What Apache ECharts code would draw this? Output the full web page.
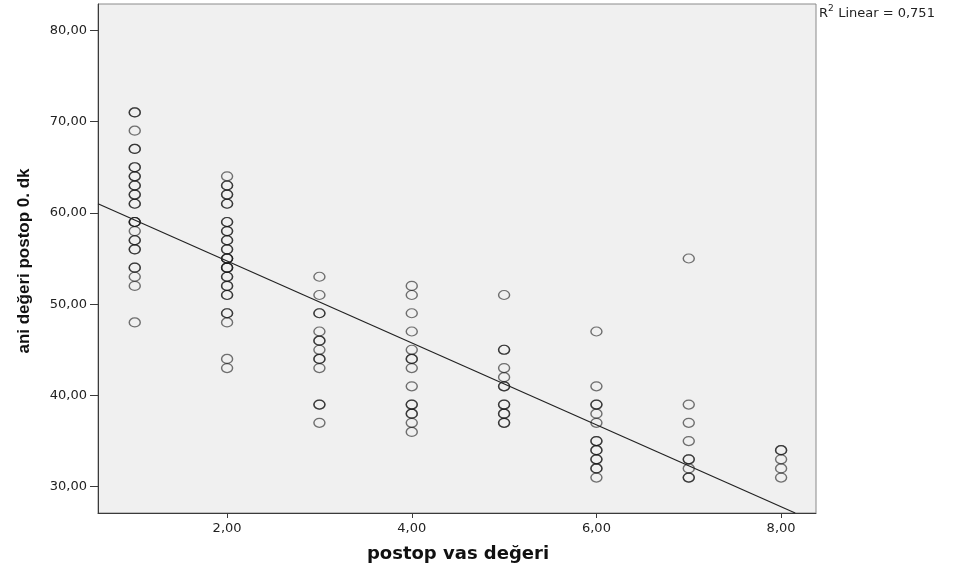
<!DOCTYPE html>
<html>
<head>
<meta charset="utf-8">
<script src="https://cdn.jsdelivr.net/npm/echarts@6/dist/echarts.min.js"></script>
<style>html,body{margin:0;padding:0;background:#fff}#c{width:953px;height:579px}</style>
</head>
<body>
<div id="c"></div>
<script>
// postop vas değeri groups and the observed "ani değeri postop 0. dk" values (duplicates = overlapping points)
const vasGroups = [1, 2, 3, 4, 5, 6, 7, 8];
const aniVas1 = [71, 71, 69, 67, 67, 65, 65, 64, 64, 63, 63, 62, 62, 61, 61, 59, 59, 59, 58, 57, 57, 56, 56, 54, 54, 53, 52, 48];
const aniVas2 = [64, 63, 63, 62, 62, 61, 61, 59, 59, 58, 58, 57, 57, 56, 56, 55, 55, 55, 54, 54, 54, 53, 53, 52, 52, 51, 51, 49, 49, 48, 44, 43];
const aniVas3 = [53, 51, 49, 49, 47, 46, 46, 45, 44, 44, 43, 39, 39, 37];
const aniVas4 = [52, 51, 49, 47, 45, 44, 44, 43, 41, 39, 39, 38, 38, 37, 36];
const aniVas5 = [51, 45, 45, 43, 42, 41, 41, 39, 39, 38, 38, 37, 37];
const aniVas6 = [47, 41, 39, 39, 38, 37, 35, 35, 34, 34, 33, 33, 32, 32, 31];
const aniVas7 = [55, 39, 37, 35, 33, 33, 32, 31, 31];
const aniVas8 = [34, 34, 33, 32, 31];
const aniByVas = [aniVas1, aniVas2, aniVas3, aniVas4, aniVas5, aniVas6, aniVas7, aniVas8];

// fitted linear line
const fitIntercept = 63.70;
const fitSlope = -4.487;
const r2Label = '0,751';

const xTicks = [2, 4, 6, 8];
const yTicks = [30, 40, 50, 60, 70, 80];
const xMin = 0.602, xMax = 8.378;
const yMin = 27.12, yMax = 82.88;

const points = [];
vasGroups.forEach((v, i) => aniByVas[i].forEach(a => points.push([v, a])));

const xEnd = (fitIntercept - yMin) / -fitSlope;
const fitLine = [[xMin, fitIntercept + fitSlope * xMin], [xEnd, fitIntercept + fitSlope * xEnd]];

const fmt = v => v.toFixed(2).replace('.', ',');

const chart = echarts.init(document.getElementById('c'), null, {renderer: 'canvas'});
chart.setOption({
  backgroundColor: '#ffffff',
  animation: false,
  grid: {
    left: 98, right: 137, top: 4, bottom: 66,
    show: true, backgroundColor: '#f0f0f0', borderColor: '#8a8a8a', borderWidth: 1
  },
  xAxis: {
    type: 'value', min: xMin, max: xMax,
    splitLine: {show: false},
    axisLine: {show: true, onZero: false, lineStyle: {color: '#3a3a3a', width: 1}},
    axisTick: {show: true, customValues: xTicks, length: 5, lineStyle: {color: '#3a3a3a'}},
    axisLabel: {customValues: xTicks, formatter: fmt, margin: 9, color: '#222',
      fontFamily: 'DejaVu Sans', fontSize: 13}
  },
  yAxis: {
    type: 'value', min: yMin, max: yMax,
    splitLine: {show: false},
    axisLine: {show: true, onZero: false, lineStyle: {color: '#3a3a3a', width: 1}},
    axisTick: {show: true, customValues: yTicks, length: 8, lineStyle: {color: '#3a3a3a'}},
    axisLabel: {customValues: yTicks, formatter: fmt, margin: 11, color: '#222',
      fontFamily: 'DejaVu Sans', fontSize: 13}
  },
  series: [
    {
      type: 'scatter', data: points, symbol: 'circle', symbolSize: [11, 9],
      itemStyle: {color: 'rgba(0,0,0,0)', borderColor: 'rgba(15,15,15,0.72)', borderWidth: 1.3},
      z: 3
    },
    {
      type: 'line', data: fitLine, showSymbol: false, clip: true,
      lineStyle: {color: '#222', width: 1.2}, z: 4
    }
  ],
  graphic: [
    {
      type: 'text', x: 24, y: 261, rotation: Math.PI / 2,
      style: {text: 'ani değeri postop 0. dk', fontFamily: 'Liberation Sans', fontWeight: 'bold',
        fontSize: 17, fill: '#111', align: 'center', verticalAlign: 'middle'}
    },
    {
      type: 'text', x: 458, y: 554,
      style: {text: 'postop vas değeri', fontFamily: 'DejaVu Sans', fontWeight: 'bold',
        fontSize: 18, fill: '#111', align: 'center', verticalAlign: 'middle'}
    },
    {
      type: 'text', x: 819, y: 14,
      style: {text: 'R', fontFamily: 'DejaVu Sans', fontSize: 13, fill: '#222',
        align: 'left', verticalAlign: 'middle'}
    },
    {
      type: 'text', x: 828, y: 9,
      style: {text: '2', fontFamily: 'DejaVu Sans', fontSize: 9, fill: '#222',
        align: 'left', verticalAlign: 'middle'}
    },
    {
      type: 'text', x: 834, y: 14,
      style: {text: ' Linear = ' + r2Label, fontFamily: 'DejaVu Sans', fontSize: 13, fill: '#222',
        align: 'left', verticalAlign: 'middle'}
    }
  ]
});
</script>
</body>
</html>
